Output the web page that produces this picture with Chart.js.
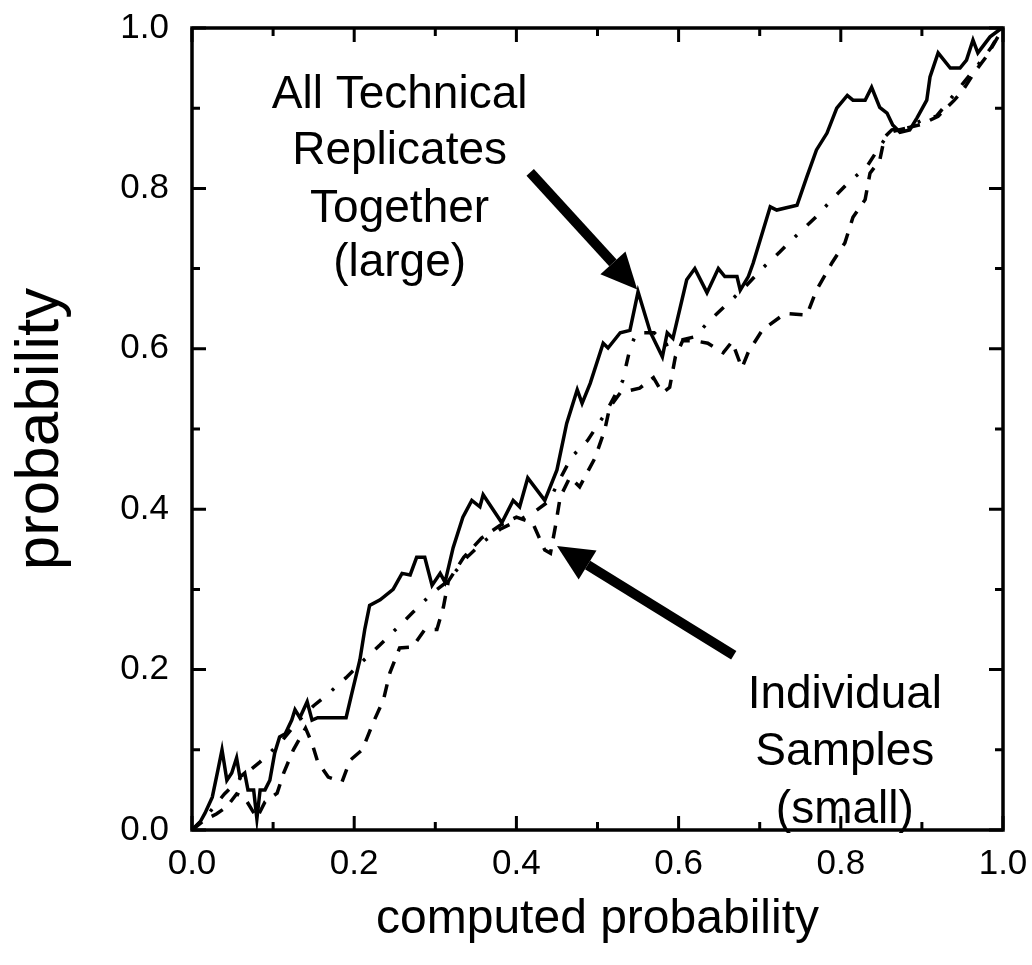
<!DOCTYPE html>
<html>
<head>
<meta charset="utf-8">
<script src="https://cdn.jsdelivr.net/npm/chart.js@4.4.1/dist/chart.umd.min.js"></script>
<style>
  html, body { margin: 0; padding: 0; background: #fff; }
  #wrap { width: 1032px; height: 965px; }
</style>
</head>
<body>
<div id="wrap"><canvas id="calib" width="1032" height="965"></canvas></div>
<script>
// ---------------- DATA ----------------

// solid curve: all technical replicates together (large)
const largeX = [0, 0.01, 0.016, 0.025, 0.032, 0.037, 0.043, 0.049, 0.055, 0.059, 0.065, 0.069, 0.076, 0.08, 0.084, 0.09,
  0.096, 0.102, 0.108, 0.115, 0.123, 0.127, 0.133, 0.142, 0.148, 0.155, 0.19, 0.197, 0.207, 0.213, 0.219, 0.232,
  0.248, 0.259, 0.269, 0.277, 0.287, 0.296, 0.306, 0.312, 0.322, 0.334, 0.345, 0.355, 0.359, 0.382, 0.396, 0.404,
  0.414, 0.435, 0.45, 0.462, 0.475, 0.481, 0.491, 0.507, 0.513, 0.528, 0.54, 0.55, 0.565, 0.58, 0.586, 0.593,
  0.61, 0.62, 0.635, 0.649, 0.657, 0.672, 0.676, 0.686, 0.692, 0.713, 0.721, 0.746, 0.758, 0.77, 0.783, 0.795,
  0.808, 0.815, 0.83, 0.838, 0.848, 0.857, 0.864, 0.873, 0.885, 0.894, 0.906, 0.91, 0.92, 0.935, 0.947, 0.955,
  0.963, 0.969, 0.984, 0.996, 1];
const largeY = [0, 0.01, 0.021, 0.041, 0.075, 0.10, 0.062, 0.071, 0.09, 0.066, 0.071, 0.05, 0.05, 0.014, 0.05, 0.05,
  0.062, 0.096, 0.116, 0.12, 0.137, 0.15, 0.14, 0.16, 0.137, 0.14, 0.14, 0.17, 0.212, 0.25, 0.28, 0.287,
  0.30, 0.32, 0.318, 0.34, 0.34, 0.305, 0.32, 0.309, 0.352, 0.39, 0.411, 0.403, 0.418, 0.383, 0.411, 0.403,
  0.439, 0.411, 0.449, 0.507, 0.549, 0.532, 0.557, 0.607, 0.601, 0.62, 0.623, 0.671, 0.621, 0.59, 0.62, 0.613,
  0.686, 0.70, 0.67, 0.70, 0.69, 0.69, 0.673, 0.69, 0.707, 0.777, 0.773, 0.779, 0.814, 0.848, 0.869, 0.90,
  0.916, 0.91, 0.91, 0.926, 0.901, 0.894, 0.879, 0.87, 0.873, 0.888, 0.91, 0.939, 0.969, 0.95, 0.95, 0.96,
  0.985, 0.969, 0.989, 0.998, 1];

// dashed curve: individual samples (small)
const smallX = [0, 0.015, 0.03, 0.043, 0.055, 0.065, 0.08, 0.09, 0.105, 0.113, 0.125, 0.14, 0.148, 0.155, 0.168, 0.185,
  0.195, 0.21, 0.223, 0.236, 0.244, 0.256, 0.272, 0.287, 0.302, 0.31, 0.316, 0.335, 0.357, 0.38, 0.40, 0.42,
  0.435, 0.442, 0.448, 0.454, 0.466, 0.478, 0.497, 0.509, 0.515, 0.528, 0.552, 0.569, 0.58, 0.589, 0.596, 0.605,
  0.62, 0.636, 0.655, 0.666, 0.678, 0.686, 0.703, 0.731, 0.758, 0.77, 0.789, 0.805, 0.815, 0.83, 0.836, 0.848,
  0.854, 0.863, 0.88, 0.9, 0.92, 0.94, 0.951, 0.965, 0.98, 1];
const smallY = [0, 0.012, 0.02, 0.029, 0.045, 0.04, 0.015, 0.035, 0.046, 0.071, 0.10, 0.127, 0.108, 0.085, 0.066, 0.06,
  0.087, 0.10, 0.133, 0.162, 0.196, 0.227, 0.228, 0.25, 0.25, 0.278, 0.31, 0.34, 0.364, 0.38, 0.39, 0.383,
  0.349, 0.345, 0.378, 0.415, 0.44, 0.428, 0.464, 0.499, 0.527, 0.545, 0.551, 0.564, 0.545, 0.552, 0.59, 0.61,
  0.61, 0.607, 0.595, 0.609, 0.576, 0.596, 0.623, 0.644, 0.642, 0.673, 0.707, 0.732, 0.764, 0.786, 0.819, 0.835,
  0.864, 0.873, 0.875, 0.88, 0.89, 0.91, 0.923, 0.945, 0.965, 1];

// dash-dot curve
const midX = [0, 0.02, 0.04, 0.06, 0.084, 0.11, 0.13, 0.15, 0.166, 0.19, 0.21, 0.232, 0.253, 0.273, 0.296, 0.315,
  0.339, 0.36, 0.38, 0.40, 0.42, 0.44, 0.455, 0.468, 0.488, 0.51, 0.531, 0.54, 0.548, 0.57, 0.585, 0.60,
  0.62, 0.639, 0.661, 0.68, 0.703, 0.725, 0.746, 0.768, 0.789, 0.809, 0.832, 0.848, 0.86, 0.88, 0.90, 0.918,
  0.93, 0.95, 0.97, 0.985, 1];
const midY = [0, 0.02, 0.045, 0.065, 0.085, 0.11, 0.135, 0.155, 0.168, 0.19, 0.21, 0.231, 0.252, 0.272, 0.295, 0.31,
  0.34, 0.36, 0.375, 0.385, 0.395, 0.41, 0.44, 0.465, 0.486, 0.52, 0.56, 0.6, 0.62, 0.62, 0.605, 0.61,
  0.615, 0.636, 0.657, 0.675, 0.70, 0.721, 0.742, 0.763, 0.786, 0.807, 0.827, 0.852, 0.87, 0.875, 0.885, 0.89,
  0.905, 0.93, 0.955, 0.975, 1];

// ticks on both axes
const majorTicks = [0, 0.2, 0.4, 0.6, 0.8, 1.0];
const minorTicks = [0.1, 0.3, 0.5, 0.7, 0.9];

// callout texts, anchored in data units (center x, middle y per line)
const largeNote = ["All Technical", "Replicates", "Together", "(large)"];
const largeNoteX = 0.256;
const largeNoteY = [0.916, 0.846, 0.774, 0.706];
const smallNote = ["Individual", "Samples", "(small)"];
const smallNoteX = 0.805;
const smallNoteY = [0.168, 0.097, 0.025];

// arrows: [tailX, tailY, tipX, tipY]
const arrows = [
  [0.417, 0.82, 0.549, 0.674],
  [0.668, 0.218, 0.45, 0.354]
];

const FONT = '"Liberation Sans", Arial, Helvetica, sans-serif';

function pts(xs, ys) {
  return xs.map((x, i) => ({ x: x, y: ys[i] }));
}

// ---------------- PLUGIN: frame, inward ticks, callouts ----------------

const framePlugin = {
  id: 'frameTicks',
  afterDraw(chart) {
    const { ctx, chartArea: a, scales: { x, y } } = chart;
    ctx.save();
    ctx.strokeStyle = '#000';
    ctx.lineCap = 'butt';

    // ticks on all four sides, pointing inward
    const tick = (vals, len, w) => {
      ctx.lineWidth = w;
      vals.forEach(v => {
        const px = x.getPixelForValue(v);
        const py = y.getPixelForValue(v);
        ctx.beginPath();
        ctx.moveTo(px, a.bottom); ctx.lineTo(px, a.bottom - len);
        ctx.moveTo(px, a.top); ctx.lineTo(px, a.top + len);
        ctx.moveTo(a.left, py); ctx.lineTo(a.left + len, py);
        ctx.moveTo(a.right, py); ctx.lineTo(a.right - len, py);
        ctx.stroke();
      });
    };
    tick(majorTicks, 14, 3);
    tick(minorTicks, 8, 3);

    ctx.lineWidth = 3.5;
    ctx.strokeRect(a.left, a.top, a.right - a.left, a.bottom - a.top);

    // callout text
    ctx.fillStyle = '#000';
    ctx.font = '46px ' + FONT;
    ctx.textAlign = 'center';
    ctx.textBaseline = 'middle';
    largeNote.forEach((t, i) => ctx.fillText(t, x.getPixelForValue(largeNoteX), y.getPixelForValue(largeNoteY[i])));
    smallNote.forEach((t, i) => ctx.fillText(t, x.getPixelForValue(smallNoteX), y.getPixelForValue(smallNoteY[i])));

    // arrows
    arrows.forEach(([x0, y0, x1, y1]) => {
      const sx = x.getPixelForValue(x0), sy = y.getPixelForValue(y0);
      const ex = x.getPixelForValue(x1), ey = y.getPixelForValue(y1);
      const ang = Math.atan2(ey - sy, ex - sx);
      const headLen = 36, headW = 17;
      const bx = ex - headLen * Math.cos(ang), by = ey - headLen * Math.sin(ang);
      ctx.lineWidth = 10;
      ctx.beginPath();
      ctx.moveTo(sx, sy);
      ctx.lineTo(bx, by);
      ctx.stroke();
      ctx.beginPath();
      ctx.moveTo(ex, ey);
      ctx.lineTo(bx + headW * Math.sin(ang), by - headW * Math.cos(ang));
      ctx.lineTo(bx - headW * Math.sin(ang), by + headW * Math.cos(ang));
      ctx.closePath();
      ctx.fill();
    });
    ctx.restore();
  }
};

// ---------------- CHART ----------------

const line = (label, xs, ys, dash) => ({
  label: label,
  data: pts(xs, ys),
  showLine: true,
  borderColor: '#000',
  backgroundColor: '#000',
  borderWidth: 3.5,
  borderDash: dash,
  pointRadius: 0,
  tension: 0
});

new Chart(document.getElementById('calib'), {
  type: 'scatter',
  data: {
    datasets: [
      line('All Technical Replicates Together (large)', largeX, largeY, []),
      line('Individual Samples (small)', smallX, smallY, [13, 11]),
      line('dash-dot', midX, midY, [12, 14, 3, 14])
    ]
  },
  options: {
    responsive: false,
    animation: false,
    devicePixelRatio: 1,
    layout: { padding: { top: 28, right: 29, left: 0, bottom: 0 } },
    plugins: {
      legend: { display: false },
      tooltip: { enabled: false }
    },
    scales: {
      x: {
        type: 'linear',
        min: 0,
        max: 1,
        grid: { display: false },
        border: { display: false },
        ticks: {
          stepSize: 0.2,
          padding: 5,
          color: '#000',
          font: { family: FONT, size: 35 },
          callback: v => v.toFixed(1)
        },
        title: {
          display: true,
          text: 'computed probability',
          color: '#000',
          font: { family: FONT, size: 48 },
          padding: { bottom: 16 }
        },
        afterFit: s => {
          s.height = 135;
          s.paddingLeft = 0;
          s.paddingRight = 0;
        }
      },
      y: {
        type: 'linear',
        min: 0,
        max: 1,
        grid: { display: false },
        border: { display: false },
        ticks: {
          stepSize: 0.2,
          padding: 15,
          color: '#000',
          font: { family: FONT, size: 35 },
          callback: v => v.toFixed(1)
        },
        title: {
          display: true,
          text: 'probability',
          color: '#000',
          font: { family: FONT, size: 62 },
          padding: { top: 4 }
        },
        afterFit: s => {
          s.width = 192;
          s.paddingTop = 0;
          s.paddingBottom = 0;
        }
      }
    }
  },
  plugins: [framePlugin]
});
</script>
</body>
</html>
